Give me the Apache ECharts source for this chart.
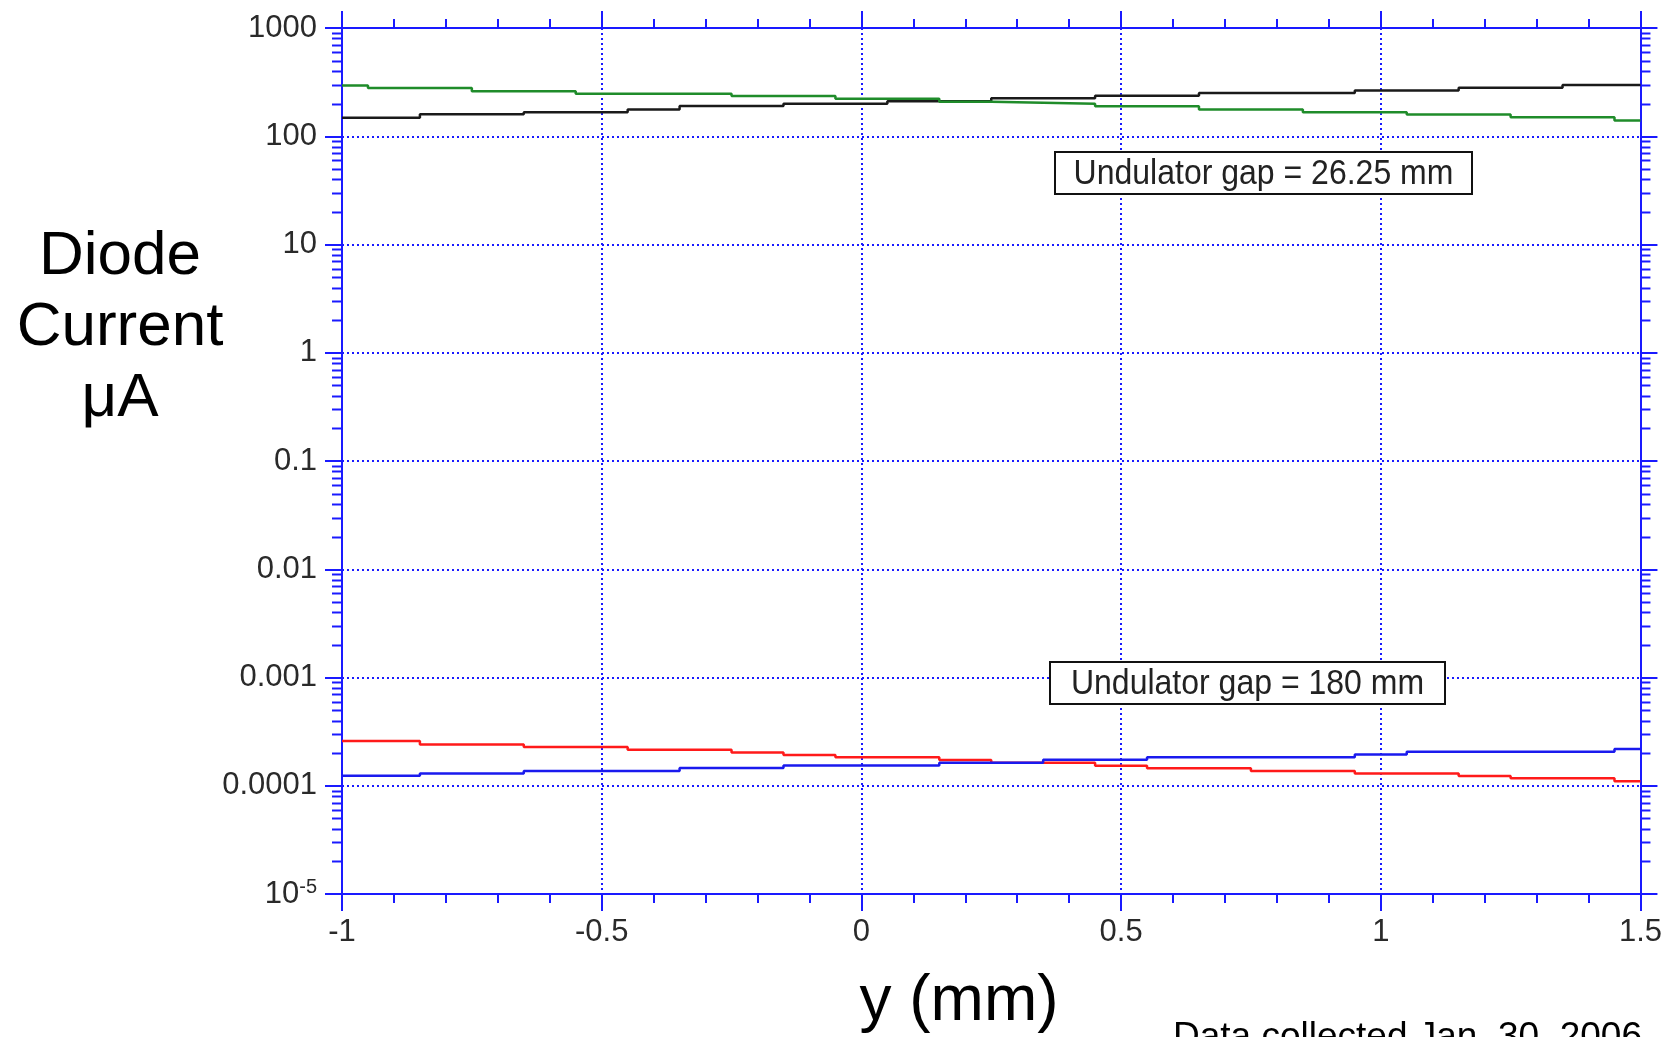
<!DOCTYPE html>
<html lang="en">
  <head>
    <meta charset="UTF-8" />
    <title>Diode Current vs y</title>
    <script src="https://cdn.jsdelivr.net/npm/echarts@6/dist/echarts.min.js"></script>
  </head>
  <body style="margin: 0; background: #fff">
    <div id="main" style="width: 1665px; height: 1037px"></div>

    <script type="text/javascript">
      // step start positions (mm) and diode current (uA)
      const greenX = [-1, -0.95, -0.75, -0.55, -0.25, -0.05, 0.15, 0.25, 0.45, 0.65, 0.85, 1.05, 1.25, 1.45, 1.5];
      const greenY = [295, 279, 261, 247, 236, 222, 208, 200, 189, 177, 167, 159, 150, 140, 140];

      const blackX = [-1, -0.85, -0.65, -0.45, -0.35, -0.15, 0.05, 0.25, 0.45, 0.65, 0.95, 1.15, 1.35, 1.5];
      const blackY = [148, 160, 167, 177, 190, 200, 211, 224, 237, 251, 265, 281, 297, 297];

      const redX = [-1, -0.85, -0.65, -0.45, -0.25, -0.15, -0.05, 0.15, 0.25, 0.45, 0.55, 0.75, 0.95, 1.15, 1.25, 1.45, 1.5];
      const redY = [2.59e-4, 2.41e-4, 2.28e-4, 2.15e-4, 2.03e-4, 1.92e-4, 1.83e-4, 1.73e-4, 1.63e-4, 1.53e-4, 1.45e-4, 1.37e-4, 1.3e-4, 1.23e-4, 1.17e-4, 1.1e-4, 1.1e-4];

      const blueX = [-1, -0.85, -0.65, -0.35, -0.15, 0.15, 0.35, 0.55, 0.95, 1.05, 1.45, 1.5];
      const blueY = [1.24e-4, 1.3e-4, 1.37e-4, 1.46e-4, 1.54e-4, 1.63e-4, 1.74e-4, 1.83e-4, 1.94e-4, 2.06e-4, 2.18e-4, 2.18e-4];

      // y tick labels, from 1e-5 up to 1000
      const yTickLabels = ["{b|10}{s|-5}", "0.0001", "0.001", "0.01", "0.1", "1", "10", "100", "1000"];

      const axisBlue = "#1a1aff";
      const labelGrey = "#2a2a2a";
      const font = "Liberation Sans, Arial, sans-serif";

      const toPairs = (xs, ys) => xs.map((x, i) => [x, ys[i]]);

      let myChart = echarts.init(document.getElementById("main"));

      const xBase = {
        type: "value",
        min: -1,
        max: 1.5,
        interval: 0.5,
        axisLine: { onZero: false, lineStyle: { color: axisBlue, width: 2 } },
        axisTick: { inside: false, length: 17, lineStyle: { color: axisBlue, width: 2 } },
        minorTick: { show: true, splitNumber: 5, length: 9, lineStyle: { color: axisBlue, width: 2 } },
      };
      const yBase = {
        type: "log",
        logBase: 10,
        min: 1e-5,
        max: 1000,
        interval: 1,
        axisLine: { show: true, onZero: false, lineStyle: { color: axisBlue, width: 2 } },
        axisTick: { show: true, inside: false, length: 17, lineStyle: { color: axisBlue, width: 2 } },
      };

      const options = {
        backgroundColor: "#fff",
        animation: false,
        grid: { left: 342, right: 24, top: 28, bottom: 143 },
        xAxis: [
          Object.assign({}, xBase, {
            position: "bottom",
            axisLabel: { margin: 23, fontSize: 31, color: labelGrey, fontFamily: font },
            splitLine: { show: true, lineStyle: { color: axisBlue, width: 2, type: [2, 3] } },
          }),
          Object.assign({}, xBase, {
            position: "top",
            axisLabel: { show: false },
            splitLine: { show: false },
          }),
        ],
        yAxis: [
          Object.assign({}, yBase, {
            position: "left",
            axisLabel: {
              margin: 25,
              fontSize: 31,
              color: labelGrey,
              fontFamily: font,
              formatter: (v) => yTickLabels[Math.round(Math.log10(v)) + 5],
              rich: {
                b: { fontSize: 31, color: labelGrey, fontFamily: font, lineHeight: 34 },
                s: { fontSize: 20, color: labelGrey, fontFamily: font, lineHeight: 34, verticalAlign: "top" },
              },
            },
            splitLine: { show: true, lineStyle: { color: axisBlue, width: 2, type: [2, 3] } },
          }),
          Object.assign({}, yBase, {
            position: "right",
            axisLabel: { show: false },
            splitLine: { show: false },
          }),
        ],
        series: [
          { name: "black", data: toPairs(blackX, blackY), color: "#1a1a1a" },
          { name: "green", data: toPairs(greenX, greenY), color: "#1f8c2a" },
          { name: "red", data: toPairs(redX, redY), color: "#ff1a1a" },
          { name: "blue", data: toPairs(blueX, blueY), color: "#1a1aee" },
        ].map((s) => ({
          name: s.name,
          type: "line",
          step: "end",
          showSymbol: false,
          data: s.data,
          lineStyle: { color: s.color, width: 2.5 },
          itemStyle: { color: s.color },
        })),
      };

      myChart.setOption(options);

      // log minor ticks (2..9 in each decade) on the left and right axes
      const xl = myChart.convertToPixel({ xAxisIndex: 0 }, -1);
      const xr = myChart.convertToPixel({ xAxisIndex: 0 }, 1.5);
      const tickStyle = { stroke: axisBlue, lineWidth: 2 };
      const graphics = [];
      for (let e = -5; e < 3; e++) {
        for (let k = 2; k <= 9; k++) {
          const py = Math.round(myChart.convertToPixel({ yAxisIndex: 0 }, k * Math.pow(10, e))) + 0.5;
          graphics.push({ type: "line", shape: { x1: xl - 10, y1: py, x2: xl, y2: py }, style: tickStyle });
          graphics.push({ type: "line", shape: { x1: xr, y1: py, x2: xr + 10, y2: py }, style: tickStyle });
        }
      }

      const boxed = (x, y, w, h, txt) => [
        { type: "rect", shape: { x: x, y: y, width: w, height: h }, style: { fill: "#fff", stroke: "#111", lineWidth: 2 }, z: 10 },
        {
          type: "text",
          x: x + w / 2,
          y: y + h / 2 + 1,
          scaleY: 1.1,
          z: 11,
          style: { text: txt, fill: "#222", font: "32px " + font, textAlign: "center", textVerticalAlign: "middle" },
        },
      ];

      graphics.push(...boxed(1055, 152, 417, 42, "Undulator gap = 26.25 mm"));
      graphics.push(...boxed(1050, 662, 395, 42, "Undulator gap = 180 mm"));

      graphics.push({
        type: "text",
        x: 120,
        y: 328,
        style: {
          text: "Diode\nCurrent\nμA",
          fill: "#000",
          font: "62px " + font,
          lineHeight: 71,
          textAlign: "center",
          textVerticalAlign: "middle",
        },
      });
      graphics.push({
        type: "text",
        x: 959,
        y: 1002,
        style: { text: "y (mm)", fill: "#000", font: "64px " + font, textAlign: "center", textVerticalAlign: "middle" },
      });
      graphics.push({
        type: "text",
        x: 1173,
        y: 1038,
        style: { text: "Data collected Jan. 30, 2006", fill: "#000", font: "37px " + font, textAlign: "left", textVerticalAlign: "middle" },
      });

      myChart.setOption({ graphic: graphics });
    </script>
  </body>
</html>
